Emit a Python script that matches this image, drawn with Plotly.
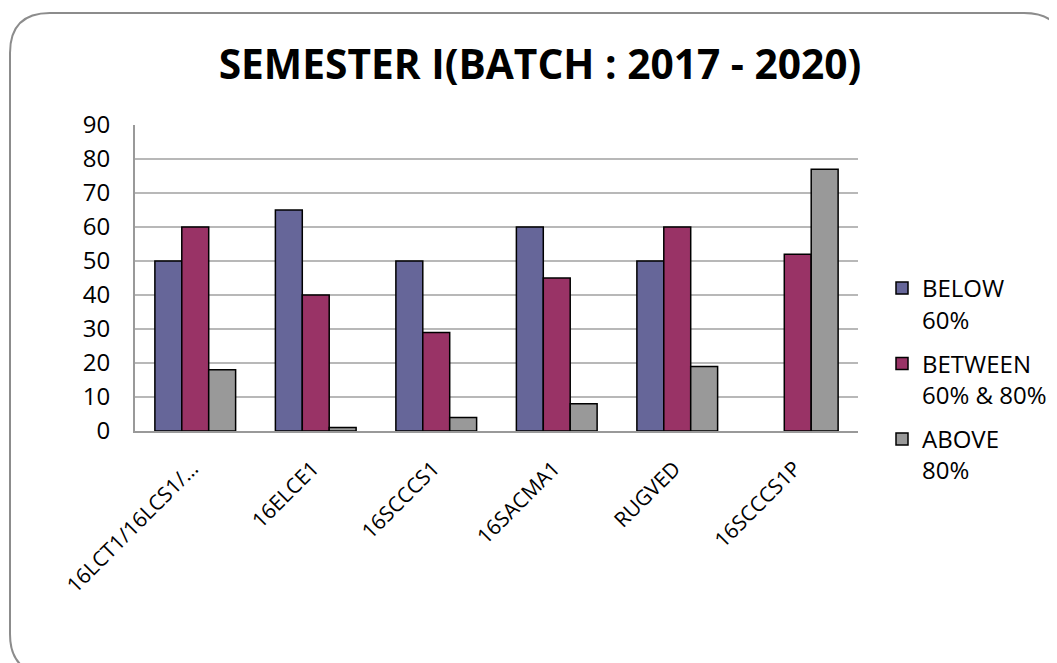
import plotly.graph_objects as go

categories = ["16LCT1/16LCS1/…", "16ELCE1", "16SCCCS1", "16SACMA1", "RUGVED", "16SCCCS1P"]
below_60 = [50, 65, 50, 60, 50, None]
between_60_80 = [60, 40, 29, 45, 60, 52]
above_80 = [18, 1, 4, 8, 19, 77]
series_names = ["BELOW<br>60%", "BETWEEN<br>60% & 80%", "ABOVE<br>80%"]
colors = ["#666699", "#993366", "#999999"]
y_ticks = list(range(0, 100, 10))

W, H = 1057, 663
OFF = 8  # page body margin
L, R, T, B = 135 - OFF, 858 - OFF, 125 - OFF, 431 - OFF

fig = go.Figure()
for i, (name, vals, col) in enumerate(zip(series_names, [below_60, between_60_80, above_80], colors)):
    fig.add_trace(go.Bar(x=categories, y=vals, name=name, legendgroup=f"g{i}",
                         marker=dict(color=col, line=dict(color="#000000", width=1.5))))

def P(px, py):
    a = (px - OFF - L) / (R - L)
    b = (B - (py - OFF)) / (B - T)
    return f"{a:.5f},{b:.5f}"

# rounded rectangle frame (page pixel coords)
x0, y0, x1, y1, r = 10, 13, 1064, 674, 40
path = (f"M {P(x0, y0 + r)} Q {P(x0, y0)} {P(x0 + r, y0)} L {P(x1 - r, y0)} "
        f"Q {P(x1, y0)} {P(x1, y0 + r)} L {P(x1, y1 - r)} Q {P(x1, y1)} {P(x1 - r, y1)} "
        f"L {P(x0 + r, y1)} Q {P(x0, y1)} {P(x0, y1 - r)} Z")
fig.add_shape(type="path", path=path, xref="paper", yref="paper",
              line=dict(color="#8c8c8c", width=2), fillcolor="rgba(0,0,0,0)", layer="below")

fig.update_layout(
    width=W, height=H,
    margin=dict(l=L, r=W - R, t=T, b=H - B, autoexpand=False),
    paper_bgcolor="white", plot_bgcolor="white",
    barmode="group", bargap=0.33, bargroupgap=0,
    title=dict(text="<b>SEMESTER I(BATCH : 2017 - 2020)</b>", x=(540 - OFF) / W, xanchor="center",
               xref="container", yref="container",
               y=1 - (65 - OFF) / H, yanchor="middle",
               font=dict(family="Open Sans", size=40.7, color="#000000")),
    font=dict(family="Open Sans", size=24, color="#000000"),
    xaxis=dict(tickangle=-45, showgrid=False, showline=True, linecolor="#999999", linewidth=2,
               ticks="", tickfont=dict(size=21), ticklabelstandoff=15, ticklabelshift=-3),
    yaxis=dict(range=[0, 90], tickvals=y_ticks, showgrid=True, gridcolor="#b8b8b8", gridwidth=1.5,
               showline=True, linecolor="#999999", linewidth=2, ticks="", zeroline=False,
               tickfont=dict(size=24), ticklabelstandoff=18),
    legend=dict(x=(882 - OFF - L) / (R - L), xanchor="left",
                y=(B - (266 - OFF)) / (B - T), yanchor="top", font=dict(size=24),
                tracegroupgap=10, itemwidth=30, valign="top"),
    showlegend=True,
)

fig.write_html("out.html")
